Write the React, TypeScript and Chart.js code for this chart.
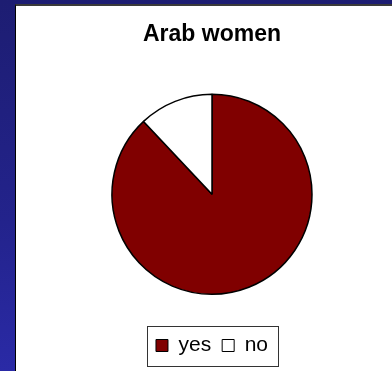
import React, { useEffect, useRef } from "react";
import { Chart, registerables } from "chart.js";

Chart.register(...registerables);

const TITLE = "Arab women";
const CATEGORIES = ["yes", "no"];
const VALUES = [88, 12];
const COLORS = ["#800000", "#ffffff"];

const legendFrame = {
  id: "legendFrame",
  afterDraw(chart: any) {
    const lg = chart.legend;
    if (!lg || !lg.legendHitBoxes || !lg.legendHitBoxes.length) return;
    const hb = lg.legendHitBoxes;
    const first = hb[0];
    const last = hb[hb.length - 1];
    const cy = first.top + first.height / 2;
    const left = Math.round(first.left - 9) + 0.5;
    const right = Math.round(last.left + last.width + 10) + 0.5;
    const top = Math.round(cy - 19.5) + 0.5;
    const bottom = Math.round(cy + 20.5) + 0.5;
    const ctx = chart.ctx;
    ctx.save();
    ctx.strokeStyle = "#333";
    ctx.lineWidth = 1;
    ctx.strokeRect(left, top, right - left, bottom - top);
    ctx.restore();
  },
};

export default function App() {
  const ref = useRef<HTMLCanvasElement>(null);
  useEffect(() => {
    if (!ref.current) return;
    Chart.defaults.font.family = "'Liberation Sans', Arial, sans-serif";
    const chart = new Chart(ref.current, {
      type: "pie",
      data: {
        labels: CATEGORIES,
        datasets: [
          {
            data: VALUES,
            backgroundColor: COLORS,
            borderColor: "#000",
            borderWidth: 1.5,
          },
        ],
      },
      options: {
        animation: false,
        responsive: false,
        radius: 100,
        layout: { padding: { left: 17, right: 0, top: 0, bottom: 5 } },
        plugins: {
          tooltip: { enabled: false },
          title: {
            display: true,
            text: TITLE,
            color: "#000",
            font: { size: 23, weight: "bold" },
            padding: { top: 16, bottom: 16 },
          },
          legend: {
            position: "bottom",
            labels: {
              color: "#000",
              font: { size: 21 },
              boxWidth: 12,
              boxHeight: 12,
              padding: 11,
              generateLabels(c: any) {
                const items = Chart.overrides.pie.plugins.legend.labels.generateLabels(c);
                return items.map((it: any) => ({ ...it, lineWidth: 1, strokeStyle: "#000" }));
              },
            },
          },
        },
      } as any,
      plugins: [legendFrame],
    });
    return () => chart.destroy();
  }, []);

  return (
    <div
      style={{
        position: "fixed",
        left: 0,
        top: 0,
        width: 392,
        height: 371,
        overflow: "hidden",
        background: "linear-gradient(to bottom, #1d1d72 0%, #23238c 60%, #2a2aa6 100%)",
      }}
    >
      <div
        style={{
          position: "absolute",
          left: 15,
          top: 4,
          width: 377,
          height: 367,
          boxSizing: "border-box",
          background: "#fff",
          borderTop: "2px solid #3a3a3a",
          borderLeft: "1px solid #000",
        }}
      />
      <canvas
        ref={ref}
        width={377}
        height={366}
        style={{ position: "absolute", left: 15, top: 5, width: 377, height: 366 }}
      />
    </div>
  );
}
